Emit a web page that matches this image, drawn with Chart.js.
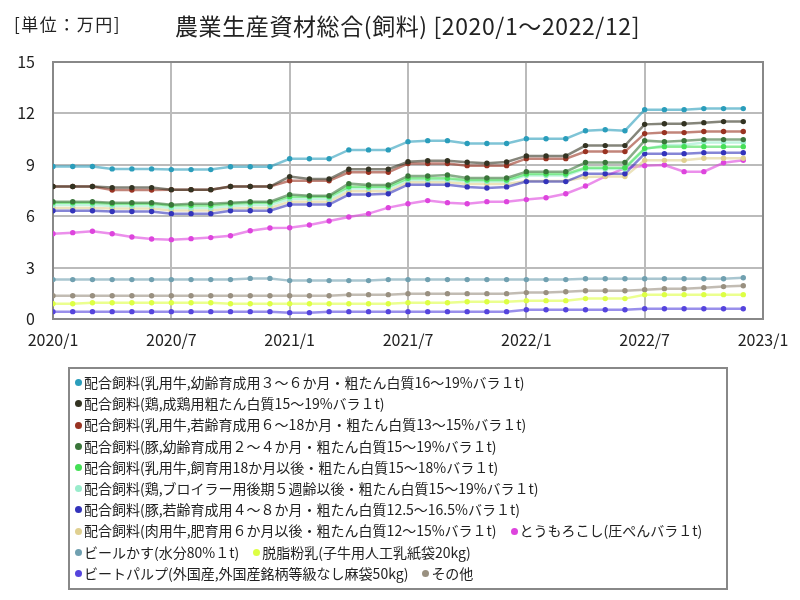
<!DOCTYPE html>
<html lang="ja">
<head>
<meta charset="utf-8">
<title>農業生産資材総合(飼料)</title>
<script src="https://cdn.jsdelivr.net/npm/chart.js@4.4.1/dist/chart.umd.min.js"></script>
<style>
  body { margin: 0; background: #fff; font-family: "Noto Sans CJK JP", sans-serif; color: #222; }
  #wrap { position: relative; width: 800px; height: 600px; }
  #unit { position: absolute; left: 14px; top: 11px; font-size: 17px; letter-spacing: 1.5px; }
  #title { position: absolute; left: 175px; top: 8px; font-size: 23px; letter-spacing: 0.6px; }
  #legend { position: absolute; left: 68px; top: 367px; width: 656px; height: 219px;
            border: 2px solid #888; box-sizing: content-box; padding: 0; }
  #legend ul { list-style: none; margin: 0; padding: 3px 0 0 5px; display: flex; flex-wrap: wrap; }
  #legend li { display: inline-flex; align-items: center; font-size: 14px; line-height: 21.2px;
               margin-right: 14px; white-space: nowrap; }
  #legend li span.dot { display: inline-block; width: 7px; height: 7px; border-radius: 50%; margin-right: 2px; }
  canvas { position: absolute; left: 0; top: 0; }
</style>
</head>
<body>
<div id="wrap">
  <canvas id="c" width="800" height="600"></canvas>
  <div id="unit">[単位：万円]</div>
  <div id="title">農業生産資材総合(飼料) [2020/1～2022/12]</div>
  <div id="legend"></div>
</div>
<script>
// 2020/1 .. 2022/12, monthly
const xTickLabels = ['2020/1', '2020/7', '2021/1', '2021/7', '2022/1', '2022/7', '2023/1'];

const seriesNames = [
  '配合飼料(乳用牛,幼齢育成用３～６か月・粗たん白質16～19%バラ１t)',
  '配合飼料(鶏,成鶏用粗たん白質15～19%バラ１t)',
  '配合飼料(乳用牛,若齢育成用６～18か月・粗たん白質13～15%バラ１t)',
  '配合飼料(豚,幼齢育成用２～４か月・粗たん白質15～19%バラ１t)',
  '配合飼料(乳用牛,飼育用18か月以後・粗たん白質15～18%バラ１t)',
  '配合飼料(鶏,ブロイラー用後期５週齢以後・粗たん白質15～19%バラ１t)',
  '配合飼料(豚,若齢育成用４～８か月・粗たん白質12.5～16.5%バラ１t)',
  '配合飼料(肉用牛,肥育用６か月以後・粗たん白質12～15%バラ１t)',
  'とうもろこし(圧ぺんバラ１t)',
  'ビールかす(水分80%１t)',
  '脱脂粉乳(子牛用人工乳紙袋20kg)',
  'ビートパルプ(外国産,外国産銘柄等級なし麻袋50kg)',
  'その他'
];

const seriesColors = ['#2a9dbb', '#333322', '#993322', '#3a753a', '#44e055', '#99eccc', '#3333bb',
                      '#e0d090', '#dd44dd', '#70a0b0', '#ddff44', '#5544dd', '#999080'];

const dairyCalf = [8.90, 8.90, 8.90, 8.76, 8.76, 8.76, 8.72, 8.72, 8.72, 8.89, 8.89, 8.89,
                   9.35, 9.35, 9.35, 9.87, 9.87, 9.87, 10.35, 10.41, 10.41, 10.24, 10.24, 10.24,
                   10.52, 10.52, 10.52, 10.99, 11.05, 10.99, 12.22, 12.22, 12.22, 12.28, 12.28, 12.28];
const layer = [7.73, 7.73, 7.73, 7.67, 7.67, 7.67, 7.55, 7.55, 7.55, 7.73, 7.73, 7.73,
               8.31, 8.17, 8.17, 8.74, 8.74, 8.74, 9.18, 9.24, 9.24, 9.15, 9.09, 9.16,
               9.52, 9.52, 9.52, 10.12, 10.12, 10.12, 11.36, 11.40, 11.40, 11.46, 11.52, 11.52];
const dairyHeifer = [7.73, 7.73, 7.73, 7.53, 7.53, 7.53, 7.55, 7.55, 7.55, 7.73, 7.73, 7.73,
                     8.07, 8.07, 8.07, 8.56, 8.56, 8.56, 9.07, 9.07, 9.07, 8.95, 8.95, 8.95,
                     9.36, 9.36, 9.36, 9.77, 9.77, 9.77, 10.82, 10.88, 10.88, 10.94, 10.94, 10.94];
const pigStarter = [6.85, 6.85, 6.85, 6.79, 6.79, 6.79, 6.67, 6.73, 6.73, 6.79, 6.85, 6.85,
                    7.26, 7.20, 7.20, 7.90, 7.82, 7.82, 8.35, 8.35, 8.41, 8.23, 8.23, 8.23,
                    8.60, 8.60, 8.60, 9.13, 9.13, 9.13, 10.41, 10.35, 10.41, 10.47, 10.47, 10.47];
const dairyCow = [6.78, 6.78, 6.78, 6.72, 6.72, 6.72, 6.62, 6.62, 6.62, 6.72, 6.78, 6.78,
                  7.14, 7.14, 7.14, 7.72, 7.72, 7.72, 8.21, 8.21, 8.21, 8.11, 8.11, 8.11,
                  8.46, 8.46, 8.46, 8.83, 8.83, 8.83, 9.96, 10.06, 10.06, 10.06, 10.06, 10.06];
const broiler = [6.65, 6.65, 6.65, 6.60, 6.60, 6.60, 6.48, 6.48, 6.48, 6.60, 6.65, 6.65,
                 7.00, 7.00, 7.00, 7.62, 7.62, 7.62, 8.12, 8.12, 8.12, 8.03, 8.03, 8.03,
                 8.38, 8.38, 8.38, 8.76, 8.76, 8.76, 9.90, 10.16, 10.16, 10.30, 10.30, 10.30];
const pigGrower = [6.32, 6.32, 6.32, 6.27, 6.27, 6.27, 6.15, 6.15, 6.15, 6.32, 6.32, 6.32,
                   6.68, 6.68, 6.68, 7.26, 7.26, 7.31, 7.84, 7.84, 7.84, 7.71, 7.65, 7.71,
                   8.02, 8.02, 8.02, 8.48, 8.48, 8.48, 9.65, 9.65, 9.65, 9.71, 9.71, 9.71];
const beef = [6.48, 6.48, 6.48, 6.45, 6.45, 6.45, 6.33, 6.33, 6.33, 6.45, 6.48, 6.48,
              6.85, 6.85, 6.85, 7.45, 7.45, 7.45, 7.98, 7.98, 7.98, 7.88, 7.88, 7.88,
              8.05, 8.05, 8.05, 8.29, 8.31, 8.31, 9.26, 9.26, 9.26, 9.38, 9.38, 9.38];
const corn = [4.98, 5.04, 5.12, 4.98, 4.79, 4.67, 4.63, 4.69, 4.75, 4.86, 5.15, 5.31,
              5.33, 5.49, 5.72, 5.95, 6.15, 6.50, 6.73, 6.91, 6.79, 6.73, 6.85, 6.85,
              6.97, 7.08, 7.31, 7.76, 8.33, 8.81, 8.95, 8.99, 8.60, 8.60, 9.12, 9.26];
const beerGrains = [2.30, 2.30, 2.30, 2.30, 2.30, 2.30, 2.30, 2.30, 2.30, 2.30, 2.37, 2.37,
                    2.24, 2.24, 2.24, 2.24, 2.24, 2.30, 2.30, 2.30, 2.30, 2.30, 2.30, 2.30,
                    2.30, 2.30, 2.30, 2.35, 2.35, 2.35, 2.35, 2.35, 2.35, 2.35, 2.35, 2.41];
const skimMilk = [0.89, 0.89, 0.95, 0.95, 0.95, 0.95, 0.95, 0.95, 0.95, 0.89, 0.89, 0.89,
                  0.89, 0.89, 0.89, 0.89, 0.89, 0.89, 0.95, 0.95, 0.95, 1.01, 1.01, 1.01,
                  1.07, 1.07, 1.07, 1.19, 1.19, 1.19, 1.42, 1.42, 1.42, 1.42, 1.42, 1.42];
const beetPulp = [0.43, 0.43, 0.43, 0.43, 0.43, 0.43, 0.43, 0.43, 0.43, 0.43, 0.43, 0.43,
                  0.37, 0.37, 0.43, 0.43, 0.43, 0.43, 0.43, 0.43, 0.43, 0.43, 0.43, 0.43,
                  0.54, 0.54, 0.54, 0.54, 0.54, 0.54, 0.60, 0.60, 0.60, 0.60, 0.60, 0.60];
const others = [1.36, 1.36, 1.36, 1.36, 1.36, 1.36, 1.36, 1.36, 1.36, 1.36, 1.36, 1.36,
                1.36, 1.36, 1.36, 1.42, 1.42, 1.42, 1.48, 1.48, 1.48, 1.48, 1.48, 1.48,
                1.54, 1.54, 1.59, 1.65, 1.65, 1.65, 1.71, 1.77, 1.77, 1.83, 1.89, 1.94];

const seriesValues = [dairyCalf, layer, dairyHeifer, pigStarter, dairyCow, broiler, pigGrower,
                      beef, corn, beerGrains, skimMilk, beetPulp, others];

const tickFont = { family: '"Noto Sans CJK JP", sans-serif', size: 16 };

// darker frame round the plot area
const frame = {
  id: 'frame',
  beforeDatasetsDraw(chart) {
    const a = chart.chartArea, ctx = chart.ctx;
    ctx.save();
    ctx.strokeStyle = '#888';
    ctx.lineWidth = 2;
    ctx.strokeRect(a.left, a.top, a.right - a.left, a.bottom - a.top);
    ctx.restore();
  }
};

const chart = new Chart(document.getElementById('c'), {
  type: 'line',
  data: {
    datasets: seriesNames.map((name, k) => ({
      label: name,
      data: seriesValues[k].map((v, i) => ({ x: i, y: v })),
      borderColor: seriesColors[k] + '99',
      backgroundColor: seriesColors[k],
      pointBackgroundColor: seriesColors[k],
      pointBorderWidth: 0,
      pointRadius: 2.7,
      borderWidth: 2.5,
      tension: 0
    }))
  },
  options: {
    responsive: false,
    animation: false,
    layout: { padding: { left: 0, top: 62, right: 37, bottom: 251 } },
    plugins: { legend: { display: false }, tooltip: { enabled: false } },
    scales: {
      x: {
        type: 'linear', min: 0, max: 36,
        afterFit: s => { s.height = 30; },
        grid: { color: '#bbb', lineWidth: 2, drawTicks: false },
        border: { display: false },
        ticks: {
          stepSize: 6, autoSkip: false, maxRotation: 0, padding: 11,
          color: '#222', font: tickFont,
          callback: v => xTickLabels[v / 6]
        }
      },
      y: {
        min: 0, max: 15,
        afterFit: s => { s.width = 53; },
        grid: { color: '#bbb', lineWidth: 2, drawTicks: false },
        border: { display: false },
        ticks: { stepSize: 3, padding: 18, color: '#222', font: tickFont }
      }
    }
  },
  plugins: [frame]
});

// legend box below the chart
const ul = document.createElement('ul');
chart.data.datasets.forEach(ds => {
  const li = document.createElement('li');
  const dot = document.createElement('span');
  dot.className = 'dot';
  dot.style.background = ds.backgroundColor;
  li.appendChild(dot);
  li.appendChild(document.createTextNode(ds.label));
  ul.appendChild(li);
});
document.getElementById('legend').appendChild(ul);
</script>
</body>
</html>
